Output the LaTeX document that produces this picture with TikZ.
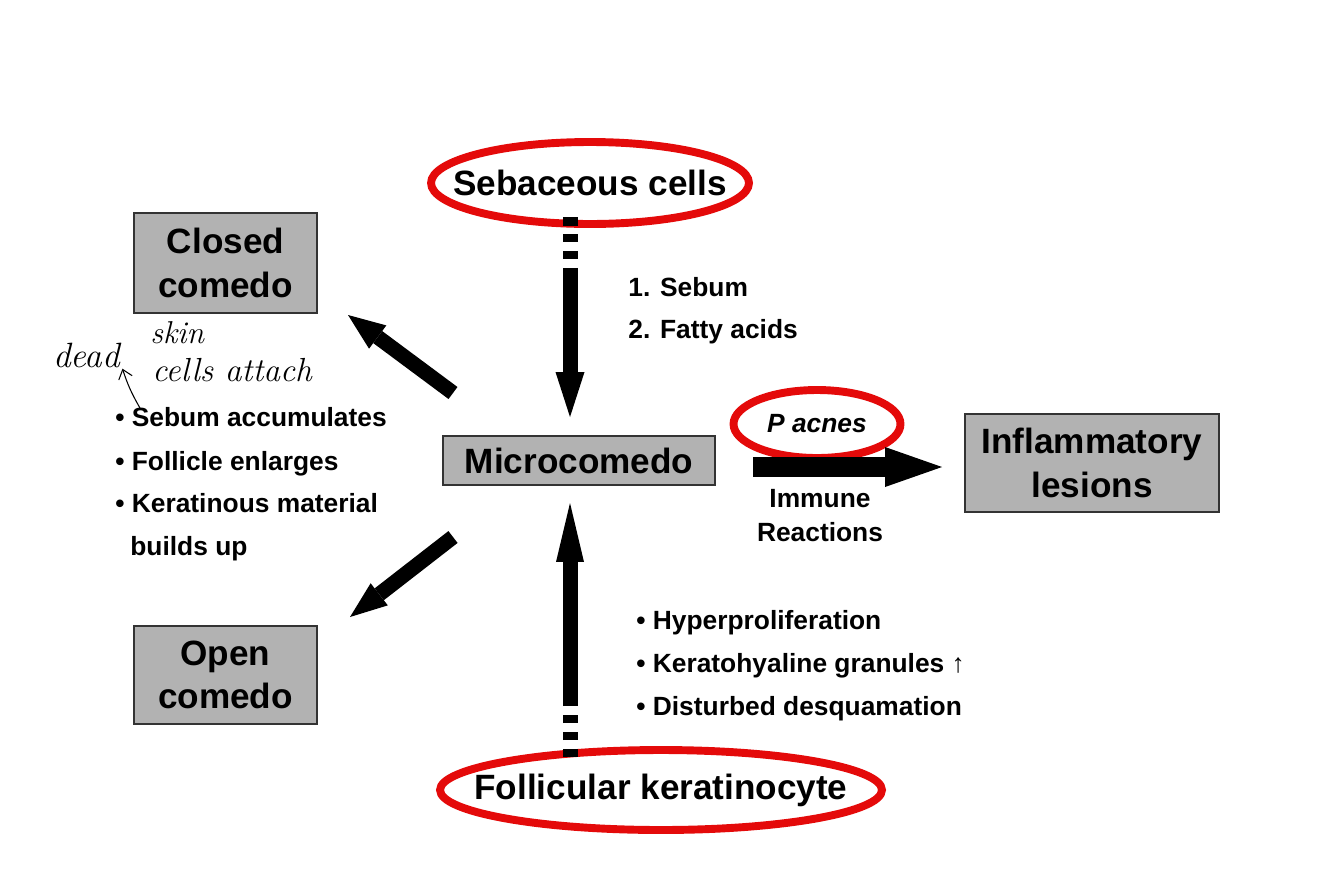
\documentclass[tikz,border=0pt]{standalone}
\usepackage{fontspec}
\newfontfamily\arialfont{Liberation Sans}
\usetikzlibrary{arrows.meta}
\definecolor{ringred}{RGB}{228,10,10}
\definecolor{boxgray}{RGB}{178,178,178}

\begin{document}
\begin{tikzpicture}[x=0.02cm, y=-0.02cm,
    box/.style={draw=black!80, line width=1.3pt, fill=boxgray, align=center, inner sep=0pt,
      font=\arialfont\bfseries\fontsize{20}{24.6}\selectfont},
    ringtext/.style={inner sep=0pt, font=\arialfont\bfseries\fontsize{20}{24.6}\selectfont},
    ring/.style={draw=ringred, line width=4.5pt},
    lbl/.style={inner sep=0pt, font=\arialfont\bfseries\fontsize{15}{24.4}\selectfont},
    hand/.style={inner sep=0pt, anchor=base west, font=\itshape\fontsize{20}{24}\selectfont},
    shaft/.style={line width=0.3cm},
  ]
  \useasboundingbox (0,0) rectangle (1334,879);

  % boxes and rings
  \node[ringtext] (seb) at (590,183) {Sebaceous cells};
  \draw[ring] (seb.center) ellipse [x radius=3.18cm, y radius=0.82cm];
  \node[box, minimum width=5.44cm, minimum height=0.98cm] (micro) at (579,460.5) {Microcomedo};
  \node[box, minimum width=3.66cm, minimum height=2cm] (closed) at (225.5,263) {Closed\\comedo};
  \node[box, minimum width=3.66cm, minimum height=1.96cm] (open) at (225.5,675) {Open\\comedo};
  \node[box, minimum width=5.08cm, minimum height=1.96cm] (infl) at (1092,463) {Inflammatory\\lesions};
  \node[ringtext, font=\arialfont\bfseries\itshape\fontsize{15}{18}\selectfont] (pac) at (817,424) {P acnes};
  \draw[ring] (pac.center) ellipse [x radius=1.67cm, y radius=0.68cm];
  \node[ringtext] (fol) at (661,790) {Follicular keratinocyte};
  \draw[ring] (fol.center) ellipse [x radius=4.42cm, y radius=0.8cm];

  % texts
  \node[lbl, anchor=base west] (sebum) at (628,296) {1. Sebum};
  \node[lbl, anchor=base west] (fatty) at (628,338) {2. Fatty acids};
  \node[lbl, anchor=base west] (accum) at (115,426) {• Sebum accumulates};
  \node[lbl, anchor=base west] (enlarge) at (115,470) {• Follicle enlarges};
  \node[lbl, anchor=base west] (kerat) at (115,512) {• Keratinous material};
  \node[lbl, anchor=base west] (builds) at (130,555) {builds up};
  \node[lbl, anchor=base] (immune) at (820,507) {Immune};
  \node[lbl, anchor=base] (react) at (820,541) {Reactions};
  \node[lbl, anchor=base west] (hyper) at (636,629) {• Hyperproliferation};
  \node[lbl, anchor=base west] (granul) at (636,672) {• Keratohyaline granules {\mdseries ↑}};
  \node[lbl, anchor=base west] (desq) at (636,715) {• Disturbed desquamation};

  % handwritten note
  \node[hand] (dead) at (53,367) {dead};
  \node[hand, font=\itshape\fontsize{18}{24}\selectfont] (skin) at (150,343) {skin};
  \node[hand, font=\itshape\fontsize{19}{24}\selectfont] (cells) at (152,381) {cells attach};
  \coordinate (handtail) at (140,408);
  \draw[line width=0.6pt, -{Straight Barb[length=5pt, width=8pt]}] (handtail) to[bend left=6] ([shift={(2,1)}]dead.south east);

  % sebaceous cells -> microcomedo
  \coordinate (dtop) at (570,217);
  \coordinate (dmid) at (570,268);
  \coordinate (dtip) at (570,417);
  \draw[shaft, dash pattern=on 0.17cm off 0.17cm] (dtop) -- (dmid);
  \draw[shaft, -{Triangle[length=0.9cm, width=0.58cm, line width=0pt]}] (dmid) -- (dtip);

  % follicular keratinocyte -> microcomedo
  \coordinate (ubot) at (570,757);
  \coordinate (umid) at (570,703);
  \coordinate (utip) at (570,503);
  \draw[shaft, dash pattern=on 0.17cm off 0.17cm] (ubot) -- (umid);
  \draw[shaft, -{Triangle[length=1.18cm, width=0.56cm, line width=0pt]}] (umid) -- (utip);

  % microcomedo -> comedones
  \coordinate (ctail) at (453,393);
  \coordinate (ctip) at (348,315);
  \draw[shaft, -{Triangle[length=0.74cm, width=0.58cm, line width=0pt]}] (ctail) -- (ctip);
  \coordinate (otail) at (453,537);
  \coordinate (otip) at (350,617);
  \draw[shaft, -{Triangle[length=0.74cm, width=0.56cm, line width=0pt]}] (otail) -- (otip);

  % microcomedo -> inflammatory lesions
  \coordinate (htail) at (753,467);
  \coordinate (htip) at (942,467);
  \draw[line width=0.4cm, -{Triangle[length=1.14cm, width=0.8cm, line width=0pt]}] (htail) -- (htip);
\end{tikzpicture}
\end{document}
